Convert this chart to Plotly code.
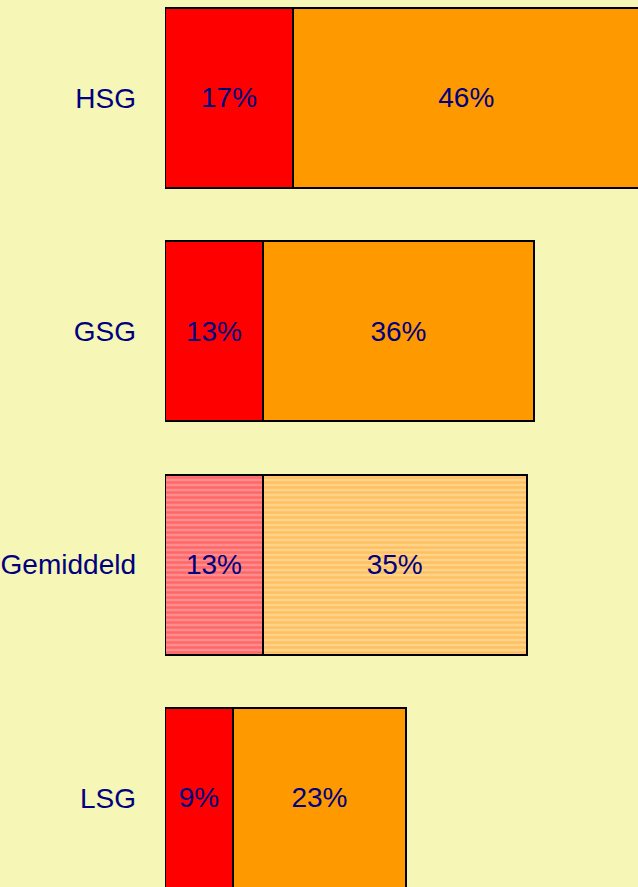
import plotly.graph_objects as go

categories = ['LSG', 'Gemiddeld', 'GSG', 'HSG']
red_values = [9, 13, 13, 17]
orange_values = [23, 35, 36, 46]

BG = '#f6f6b6'
TEXT = '#000080'
FONT = 'Liberation Sans Narrow, Liberation Sans, Arial, sans-serif'
SIZE = 28

fig = go.Figure()
for vals, plain, light, dark in [
        (red_values, '#ff0000', '#ff8d8d', '#ff6868'),
        (orange_values, '#ff9900', '#ffd488', '#ffc062')]:
    # the average row gets a lighter, striped fill
    for avg in (False, True):
        cats = [c for c in categories if (c == 'Gemiddeld') == avg]
        xs = [v for c, v in zip(categories, vals) if (c == 'Gemiddeld') == avg]
        marker = dict(color=light if avg else plain,
                      line=dict(color='#000000', width=2))
        if avg:
            marker['pattern'] = dict(shape='-', bgcolor=light, fgcolor=dark,
                                     fgopacity=1, size=5, solidity=0.5,
                                     fillmode='replace')
        fig.add_trace(go.Bar(
            y=cats, x=xs, orientation='h', marker=marker,
            text=[f'{v}%' for v in xs], textposition='inside',
            insidetextanchor='middle', textangle=0, constraintext='none',
            insidetextfont=dict(family=FONT, size=SIZE, color=TEXT),
            hoverinfo='skip'))

fig.update_layout(
    width=638, height=887, barmode='stack', bargap=0.229,
    plot_bgcolor=BG, paper_bgcolor=BG, showlegend=False,
    font=dict(family=FONT, color=TEXT, size=SIZE),
    margin=dict(l=165, r=0, t=0, b=0),
    xaxis=dict(range=[0, 62.8], visible=False, fixedrange=True),
    yaxis=dict(categoryorder='array', categoryarray=categories,
               range=[-0.382, 3.42], showgrid=False, zeroline=False,
               showline=False, ticks='', ticklabelstandoff=28,
               automargin=False, fixedrange=True,
               tickfont=dict(family=FONT, size=SIZE, color=TEXT)))

fig.write_html('out.html', config={'displayModeBar': False},
               post_script="document.body.style.margin='0';")
